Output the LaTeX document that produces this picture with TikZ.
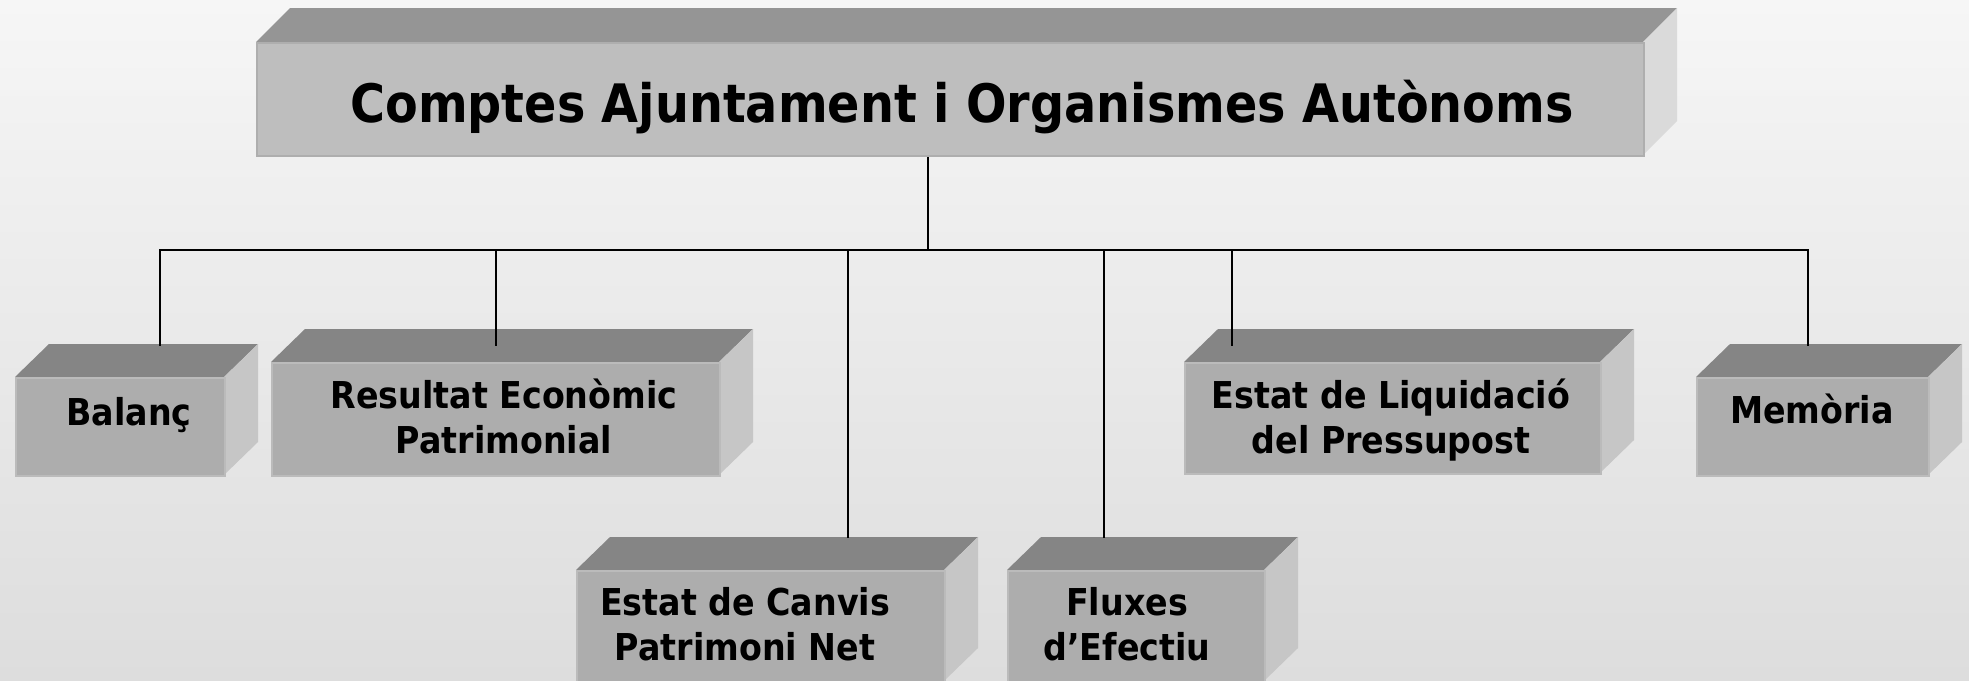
\documentclass[tikz,border=0pt]{standalone}
\usepackage{fontspec}
\setmainfont{DejaVu Sans Condensed}

\definecolor{bgtop}{HTML}{F6F6F6}
\definecolor{bgbottom}{HTML}{DDDDDD}
\definecolor{rootface}{HTML}{BEBEBE}
\definecolor{rootedge}{HTML}{AEAEAE}
\definecolor{roottop}{HTML}{959595}
\definecolor{rootright}{HTML}{DADADA}
\definecolor{kidface}{HTML}{ADADAD}
\definecolor{kidedge}{HTML}{BBBBBB}
\definecolor{kidtop}{HTML}{858585}
\definecolor{kidright}{HTML}{C6C6C6}

\tikzset{
  rootfront/.style={fill=rootface, draw=rootedge, line width=2pt, inner sep=0pt},
  rootroof/.style={fill=roottop},
  rootside/.style={fill=rootright},
  kidfront/.style={fill=kidface, draw=kidedge, line width=1.5pt, inner sep=0pt},
  kidroof/.style={fill=kidtop},
  kidside/.style={fill=kidright},
  link/.style={line width=2pt, black},
  title text/.style={font=\bfseries\fontsize{53}{60}\selectfont, anchor=base},
  box text/.style={font=\bfseries\fontsize{37}{44.5}\selectfont, align=center, anchor=base},
}

\begin{document}
\begin{tikzpicture}[x=1pt,y=-1pt]
  % Background
  \useasboundingbox (0,0) rectangle (1969,680);
  \shade[top color=bgtop, bottom color=bgbottom] (0,0) rectangle (1969,680);
  % Main block
  \fill[rootroof] (256,42) -- (290,8) -- (1677,8) -- (1643,42) -- cycle;
  \fill[rootside] (1643,42) -- (1677,8) -- (1677,121) -- (1643,155) -- cycle;
  \node[rootfront, anchor=north west, minimum width=1387pt, minimum height=113pt] (root) at (256,42) {};
  \node[title text] (title) at (962,122) {Comptes Ajuntament i Organismes Autònoms};
  % Statement blocks: name/left/top/right/bottom
  \foreach \n/\xa/\ya/\xb/\yb in {bal/15/377/224/475, res/271/362/719/475,
      can/576/570/944/681, flu/1007/570/1264/681,
      liq/1184/362/1600/473, mem/1696/377/1928/475}{
    \fill[kidroof] (\xa,\ya) -- (\xa+34,\ya-33) -- (\xb+34,\ya-33) -- (\xb,\ya) -- cycle;
    \fill[kidside] (\xb,\ya) -- (\xb+34,\ya-33) -- (\xb+34,\yb-33) -- (\xb,\yb) -- cycle;
    \node[kidfront, anchor=north west, minimum width={(\xb-\xa)*1pt},
      minimum height={(\yb-\ya)*1pt}] (\n) at (\xa,\ya) {};
  }
  % Labels (base = last line)
  \node[box text] (bal-t) at (129,425) {Balanç};
  \node[box text] (res-t) at (504,453) {Resultat Econòmic\\Patrimonial};
  \node[box text] (can-t) at (745,660) {Estat de Canvis\\Patrimoni Net};
  \node[box text] (flu-t) at (1127,660) {Fluxes\\d’Efectiu};
  \node[box text] (liq-t) at (1391,453) {Estat de Liquidació\\del Pressupost};
  \node[box text] (mem-t) at (1812,423) {Memòria};
  % Connectors
  \coordinate (hub) at (928,250);
  \coordinate (bal-in) at (160,346);
  \coordinate (res-in) at (496,346);
  \coordinate (can-in) at (848,538);
  \coordinate (flu-in) at (1104,538);
  \coordinate (liq-in) at (1232,346);
  \coordinate (mem-in) at (1808,346);
  \draw[link] (root.south -| hub) -- (hub);
  \foreach \c in {bal,res,can,flu,liq,mem}
    \draw[link] (hub) -| (\c-in);
\end{tikzpicture}
\end{document}
